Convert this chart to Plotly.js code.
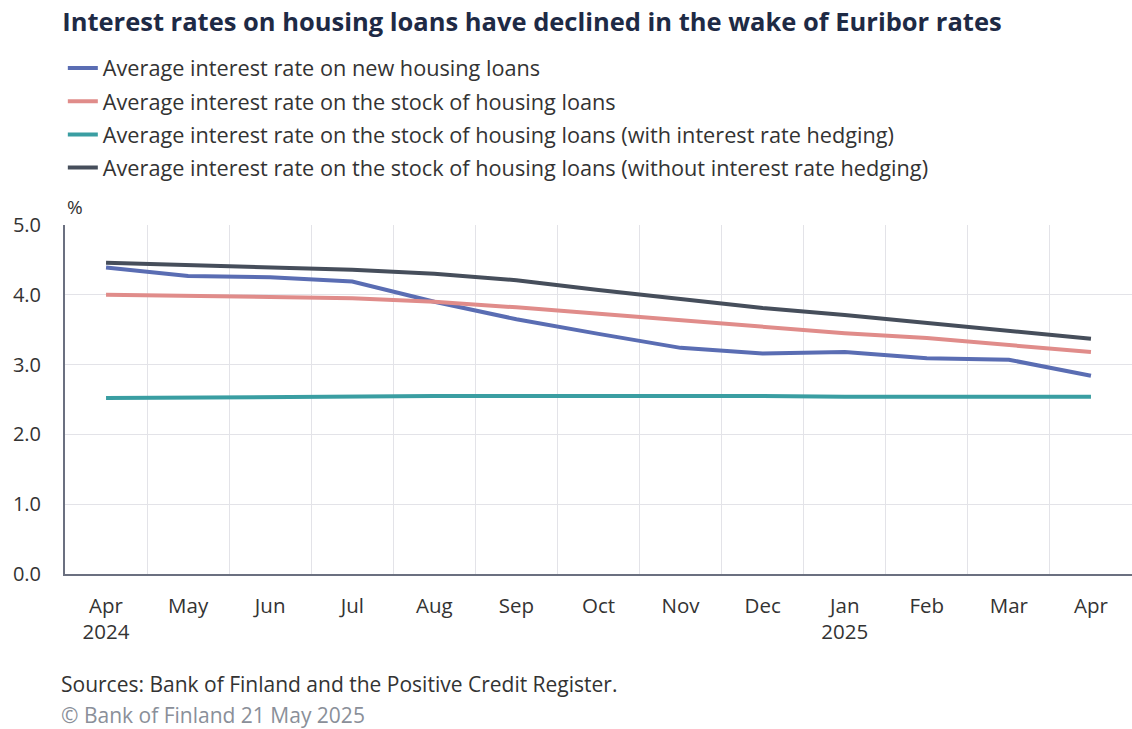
<!DOCTYPE html>
<html>
<head>
<meta charset="utf-8">
<script src="https://cdn.plot.ly/plotly-3.0.1.min.js"></script>
<style>
html,body{margin:0;padding:0;background:#fff;}
#chart{width:1132px;height:729px;}
</style>
</head>
<body>
<div id="chart"></div>
<script>
const months = ["2024-04","2024-05","2024-06","2024-07","2024-08","2024-09","2024-10","2024-11","2024-12","2025-01","2025-02","2025-03","2025-04"];
const tickLabels = ["Apr<br>2024","May","Jun","Jul","Aug","Sep","Oct","Nov","Dec","Jan<br>2025","Feb","Mar","Apr"];
const newLoans = [4.39,4.27,4.25,4.19,3.90,3.65,3.44,3.24,3.16,3.18,3.09,3.07,2.84];
const stockLoans = [4.00,3.99,3.97,3.95,3.90,3.82,3.73,3.64,3.54,3.45,3.38,3.28,3.18];
const stockHedged = [2.52,2.53,2.54,2.55,2.55,2.55,2.55,2.56,2.55,2.54,2.54,2.53,2.54];
const stockUnhedged = [4.46,4.43,4.40,4.36,4.30,4.21,4.07,3.94,3.81,3.71,3.60,3.48,3.37];
const names = [
  "Average interest rate on new housing loans",
  "Average interest rate on the stock of housing loans",
  "Average interest rate on the stock of housing loans (with interest rate hedging)",
  "Average interest rate on the stock of housing loans (without interest rate hedging)"
];
const colors = ["#5a6db3","#e08c8a","#3a9ea2","#464e5b"];
const series = [newLoans, stockLoans, stockHedged, stockUnhedged];
const FONT = "Open Sans, sans-serif";

const traces = series.map((ys, i) => ({
  x: months, y: ys, name: names[i], type: "scatter", mode: "lines",
  legendgroup: "g" + i,
  line: {color: colors[i], width: 4},
  hoverinfo: "skip"
}));

const layout = {
  width: 1132, height: 729,
  margin: {l: 65, r: 0, t: 225, b: 155, autoexpand: false},
  paper_bgcolor: "#fff", plot_bgcolor: "#fff",
  font: {family: FONT, color: "#333"},
  title: {text: "<b>Interest rates on housing loans have declined in the wake of Euribor rates</b>",
    x: 0.055, xanchor: "left", xref: "container", y: 0.97, yanchor: "middle", yref: "container",
    font: {family: FONT, size: 25.5, color: "#1e2a45"}},
  showlegend: true,
  legend: {x: 0.0555, xref: "container", xanchor: "left", y: 0.935, yref: "container", yanchor: "top",
    orientation: "v", traceorder: "grouped", tracegroupgap: 2, itemwidth: 30,
    font: {family: FONT, size: 21.7, color: "#333"}, bgcolor: "rgba(0,0,0,0)"},
  xaxis: {type: "category", tickmode: "array", tickvals: months, ticktext: tickLabels,
    tickson: "boundaries", showgrid: true, gridcolor: "#e3e3e8", gridwidth: 1,
    showline: true, linecolor: "#6b7080", linewidth: 2, ticks: "", zeroline: false,
    tickangle: 0, automargin: false, ticklabelstandoff: 12,
    tickfont: {family: FONT, size: 20.5, color: "#333"}, range: [-0.5, 12.5], fixedrange: true},
  yaxis: {range: [0, 5], tickvals: [0,1,2,3,4,5], tickformat: ".1f", automargin: false,
    showgrid: true, gridcolor: "#e3e3e8", gridwidth: 1, zeroline: false,
    showline: true, linecolor: "#6b7080", linewidth: 2, ticks: "",
    tickfont: {family: FONT, size: 20, color: "#333"}, ticklabelstandoff: 18, fixedrange: true},
  annotations: [
    {text: "%", xref: "paper", yref: "paper", x: 0, y: 1.008, xanchor: "left", yanchor: "bottom",
      showarrow: false, font: {family: FONT, size: 19, color: "#333"}},
    {text: "Sources: Bank of Finland and the Positive Credit Register.", xref: "paper", yref: "paper",
      x: -0.006, y: -0.315, xanchor: "left", yanchor: "middle", showarrow: false,
      font: {family: FONT, size: 21, color: "#333"}},
    {text: "© Bank of Finland 21 May 2025", xref: "paper", yref: "paper",
      x: -0.006, y: -0.404, xanchor: "left", yanchor: "middle", showarrow: false,
      font: {family: FONT, size: 21, color: "#8a8f99"}}
  ]
};

Plotly.newPlot("chart", traces, layout, {displayModeBar: false, staticPlot: true});
</script>
</body>
</html>
